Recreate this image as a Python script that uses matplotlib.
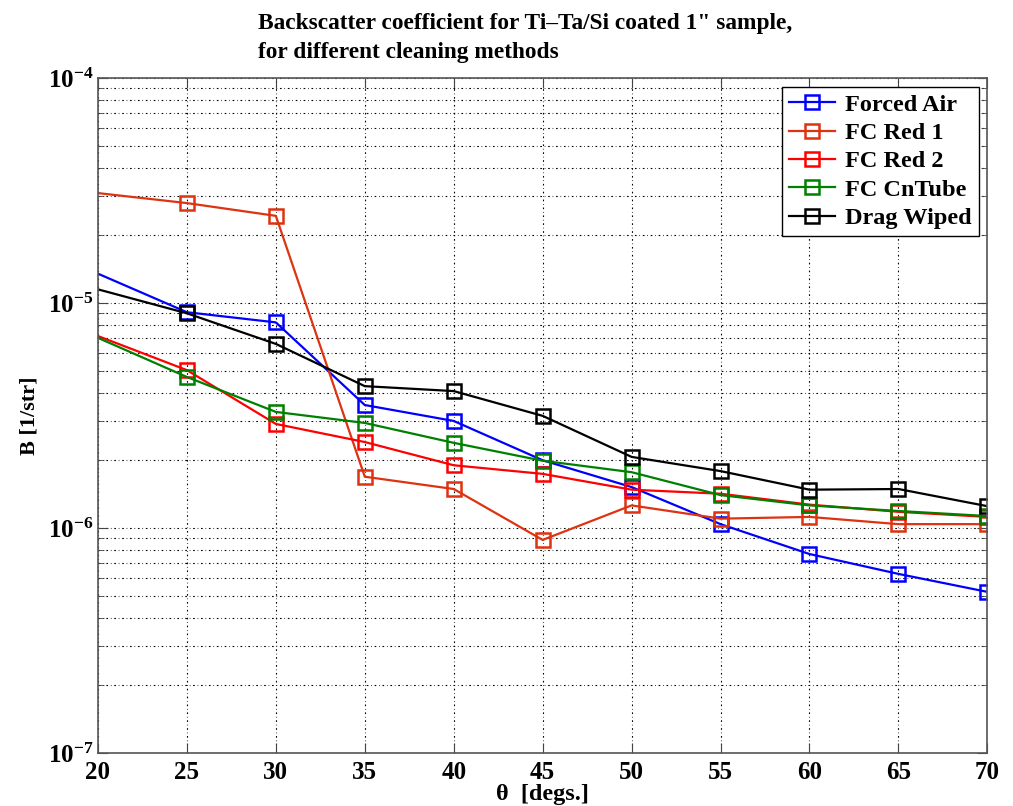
import math
import matplotlib
matplotlib.use('Agg')
import matplotlib.pyplot as plt
from matplotlib.ticker import LogLocator, FixedLocator, FuncFormatter, NullFormatter

plt.rcParams['font.family'] = 'Liberation Serif'
plt.rcParams['font.weight'] = 'bold'
plt.rcParams['mathtext.fontset'] = 'custom'
plt.rcParams['mathtext.rm'] = 'Liberation Serif:bold'
plt.rcParams['mathtext.bf'] = 'Liberation Serif:bold'
plt.rcParams['mathtext.it'] = 'Liberation Serif:bold'

# angle [deg]
theta = [20, 25, 30, 35, 40, 45, 50, 55, 60, 65, 70]

forced_air = [1.35e-5, 9.1e-6, 8.2e-6, 3.52e-6, 2.99e-6, 2.0e-6, 1.52e-6, 1.04e-6, 7.66e-7, 6.25e-7, 5.2e-7]
fc_red1 = [3.08e-5, 2.78e-5, 2.44e-5, 1.69e-6, 1.49e-6, 8.85e-7, 1.26e-6, 1.10e-6, 1.12e-6, 1.04e-6, 1.04e-6]
fc_red2 = [7.13e-6, 5.03e-6, 2.9e-6, 2.41e-6, 1.90e-6, 1.74e-6, 1.48e-6, 1.42e-6, 1.27e-6, 1.18e-6, 1.12e-6]
fc_cntube = [7.0e-6, 4.69e-6, 3.28e-6, 2.93e-6, 2.39e-6, 1.99e-6, 1.77e-6, 1.40e-6, 1.26e-6, 1.19e-6, 1.13e-6]
drag_wiped = [1.15e-5, 9.0e-6, 6.58e-6, 4.27e-6, 4.06e-6, 3.15e-6, 2.07e-6, 1.79e-6, 1.48e-6, 1.49e-6, 1.25e-6]

names = ['Forced Air', 'FC Red 1', 'FC Red 2', 'FC CnTube', 'Drag Wiped']
colors = ['#0000ff', '#dd3311', '#ff0000', '#008000', '#000000']

fig = plt.figure(figsize=(10.13, 8.06), dpi=100)
ax = fig.add_axes([0.0967, 0.0658, 0.878, 0.8374])

for y, name, c in zip([forced_air, fc_red1, fc_red2, fc_cntube, drag_wiped], names, colors):
    ax.plot(theta, y, color=c, lw=1.6, marker='s', ms=9.5, mfc='none', mec=c, mew=1.8,
            markevery=slice(1, None), label=name)

ax.set_yscale('log')
ax.set_xlim(20, 70)
ax.set_ylim(1e-7, 1e-4)
ax.xaxis.set_major_locator(FixedLocator(theta))
ax.yaxis.set_major_locator(LogLocator(base=10, numticks=10))
ax.yaxis.set_minor_locator(LogLocator(base=10, subs=range(2, 10), numticks=20))
ax.yaxis.set_minor_formatter(NullFormatter())
ax.yaxis.set_major_formatter(FuncFormatter(lambda v, p: r'$10^{%d}$' % round(math.log10(v))))

grid_style = dict(color='black', lw=0.8, linestyle=(0, (1.5, 2.5, 0.6, 2.5)))
ax.grid(True, which='major', axis='both', **grid_style)
ax.grid(True, which='minor', axis='y', **grid_style)

ax.tick_params(which='both', direction='in', top=True, right=True, labelsize=18, color='#444444')
ax.tick_params(which='major', length=7)
ax.tick_params(which='minor', length=4)
ax.tick_params(axis='x', pad=6)
for s in ax.spines.values():
    s.set_color('#555555')
    s.set_linewidth(1.2)

ax.set_xlabel('θ  [degs.]', fontsize=17.5, fontweight='bold', labelpad=0)
ax.set_ylabel('B [1/str]', fontsize=16, fontweight='bold', labelpad=6)

fig.text(0.2547, 0.984, 'Backscatter coefficient for Ti\u2013Ta/Si coated 1" sample,\nfor different cleaning methods',
         ha='left', va='top', fontsize=16.8, fontweight='bold', linespacing=1.5)

leg = ax.legend(loc='upper right', fontsize=17.5, fancybox=False, edgecolor='black', framealpha=1,
                handlelength=1.9, borderaxespad=0.35, labelspacing=0.26, handletextpad=0.4,
                borderpad=0.3)
leg.get_frame().set_linewidth(1.0)
for t in leg.get_texts():
    t.set_fontweight('bold')

fig.savefig('out.png', dpi=100)
